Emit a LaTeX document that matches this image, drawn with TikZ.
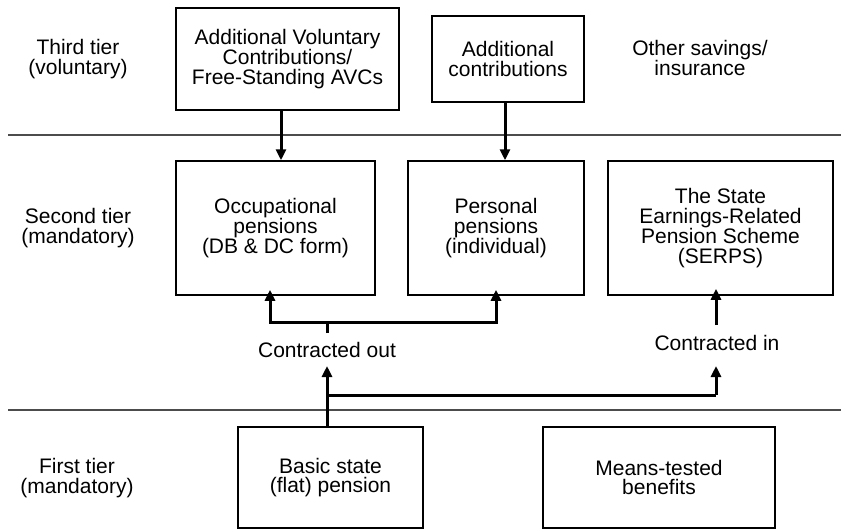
\documentclass[tikz,border=0pt]{standalone}
\usepackage{fontspec}
\setmainfont{Liberation Sans}
\usetikzlibrary{arrows.meta}
\begin{document}
\begin{tikzpicture}[x=1pt,y=-1pt,
  txt/.style={font=\fontsize{21}{19.8}\selectfont, align=center, inner sep=0pt},
  box/.style={txt, draw=black, line width=1.5pt},
  conn/.style={line width=3pt, black},
  arr/.style={conn, -{Triangle[length=11pt,width=10pt]}},
  tier/.style={line width=1.1pt, black!70}
]
\useasboundingbox (0,0) rectangle (841,531);

% tier separators
\coordinate (t1a) at (8,135);  \coordinate (t1b) at (841,135);
\coordinate (t2a) at (8,410);  \coordinate (t2b) at (841,410);
\draw[tier] (t1a) -- (t1b);
\draw[tier] (t2a) -- (t2b);

% tier labels
\node[txt] (l3) at (78,59) {Third tier\\(voluntary)};
\node[txt] (l2) at (78,228) {Second tier\\(mandatory)};
\node[txt] (l1) at (77,478) {First tier\\(mandatory)};

% boxes
\node[box, minimum width=223pt, minimum height=102pt] (avc) at (287.5,59) {Additional Voluntary\\Contributions/\\Free-Standing AVCs};
\node[box, minimum width=152pt, minimum height=86pt] (addc) at (508,59) {Additional\\contributions};
\node[txt] (other) at (700,58) {Other savings/\\insurance};

\node[box, minimum width=199pt, minimum height=134pt] (occ) at (275.5,228) {Occupational\\pensions\\(DB \& DC form)};
\node[box, minimum width=176pt, minimum height=134pt] (pers) at (496,228) {Personal\\pensions\\(individual)};
\node[box, minimum width=225pt, minimum height=134pt] (serps) at (720.5,228) {The State\\Earnings-Related\\Pension Scheme\\(SERPS)};

\node[box, minimum width=185pt, minimum height=101pt] (basic) at (330.5,477.5) {Basic state\\(flat) pension};
\node[box, minimum width=232pt, minimum height=101pt] (means) at (659,477.5) {Means-tested\\benefits};

\node[txt] (cout) at (327,350) {Contracted out};
\node[txt] (cin) at (717,343) {Contracted in};

% connector guide coordinates
\coordinate (xa) at (281,0);
\coordinate (xb) at (505,0);
\coordinate (xc) at (327,0);
\coordinate (xl) at (270,0);
\coordinate (xr) at (496,0);
\coordinate (xs) at (716,0);
\coordinate (j1) at (327,395);
\coordinate (j2) at (716,395);
\coordinate (tip1) at (327,366);
\coordinate (tip2) at (716,366);
\coordinate (s1) at (327,333);
\coordinate (h1) at (327,322);
\coordinate (hl) at (270,322);
\coordinate (hr) at (496,322);
\coordinate (s2) at (716,325);

% third tier to second tier
\draw[arr] (avc.south -| xa) -- (occ.north -| xa);
\draw[arr] (addc.south -| xb) -- (pers.north -| xb);

% basic pension up
\draw[arr] (basic.north -| xc) -- (tip1);
\draw[conn] (j1) -- (j2);
\draw[arr] (j2) -- (tip2);

% contracted out branches
\draw[conn] (s1) -- (h1);
\draw[conn, line cap=rect] (hl) -- (hr);
\draw[arr] (hl) -- ([yshift=6pt]occ.south -| xl);
\draw[arr] (hr) -- ([yshift=6pt]pers.south -| xr);

% contracted in
\draw[arr] (s2) -- ([yshift=7pt]serps.south -| xs);
\end{tikzpicture}
\end{document}
